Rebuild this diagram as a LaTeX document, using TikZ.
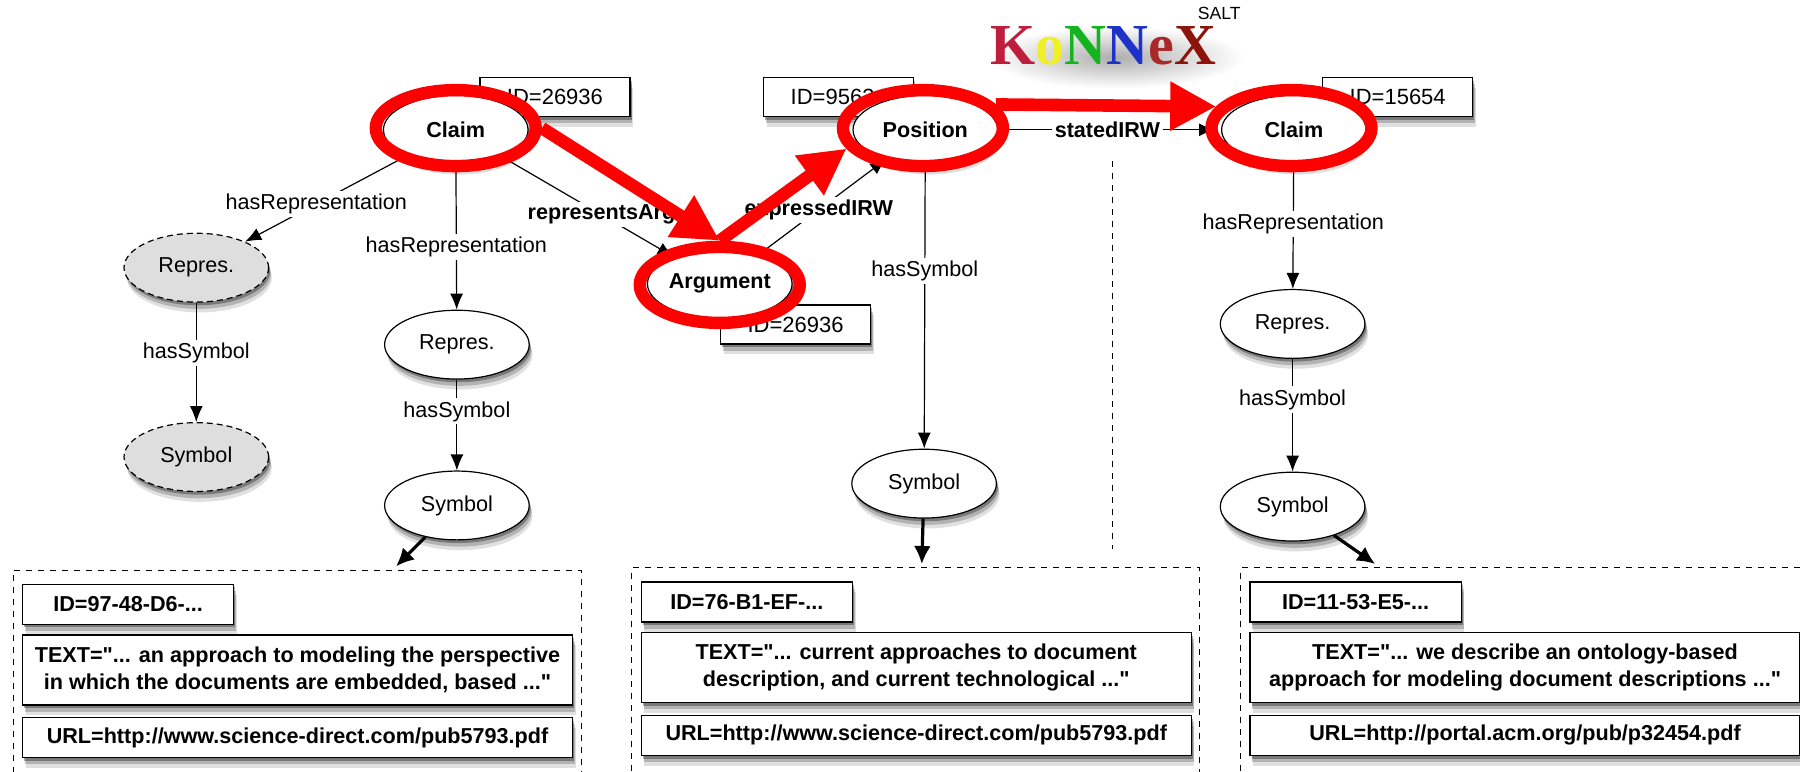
\documentclass[tikz,border=0pt]{standalone}
\usepackage{fontspec}
\setmainfont{Liberation Sans}[Ligatures=TeXOff]
\newfontfamily\logofont{Liberation Serif}
\usepackage{tikz}
\usetikzlibrary{arrows,arrows.meta,backgrounds,positioning,shadows,shapes}
\definecolor{ringred}{RGB}{255,0,0}
\tikzstyle{softshadow}=[general shadow={fill=black,opacity=.12,shadow xshift=1.6pt,shadow yshift=-5.2pt},general shadow={fill=black,opacity=.2,shadow xshift=1.2pt,shadow yshift=-3.4pt},general shadow={fill=black,opacity=.32,shadow xshift=.8pt,shadow yshift=-1.6pt}]
\tikzstyle{concept}=[ellipse,draw=black,fill=white,softshadow,line width=.6pt,inner sep=0,minimum width=72.3pt,minimum height=34.4pt,font=\fontsize{10.8}{13}\selectfont]
\tikzstyle{main}=[concept,font=\fontsize{10.8}{13}\selectfont\bfseries]
\tikzstyle{ghost}=[concept,densely dashed,fill=black!13]
\tikzstyle{idlabel}=[rectangle,draw=black,fill=white,softshadow,line width=.7pt,inner sep=0,minimum width=75pt,minimum height=19.5pt,font=\fontsize{11}{13}\selectfont]
\tikzstyle{docbox}=[rectangle,draw=black,dashed,fill=white,minimum width=284pt,minimum height=143.5pt]
\tikzstyle{docid}=[rectangle,draw=black,fill=white,softshadow,line width=.7pt,inner sep=0,minimum width=105.6pt,minimum height=20pt,font=\fontsize{10.8}{13}\selectfont\bfseries]
\tikzstyle{doctext}=[docid,minimum width=275pt,minimum height=35pt,align=center,font=\fontsize{10.8}{13.2}\selectfont\bfseries]
\tikzstyle{docurl}=[docid,minimum width=275pt]
\tikzstyle{edgelabel}=[fill=white,inner sep=1.5pt,font=\fontsize{10.8}{13}\selectfont]
\tikzstyle{boldlabel}=[edgelabel,font=\fontsize{10.8}{13}\selectfont\bfseries]
\tikzstyle{link}=[-{Latex[length=8pt,width=6.5pt]},line width=.6pt]
\tikzstyle{heavylink}=[-{Latex[length=9pt,width=8.5pt]},line width=1.6pt]
\tikzstyle{ring}=[ellipse,draw=ringred,line width=6.2pt,inner sep=0,minimum width=80pt,minimum height=38pt]
\tikzstyle{redarrow}=[-{Triangle[length=23pt,width=23pt]},draw=ringred,line width=6.3pt]

\begin{document}
\begin{tikzpicture}[>=latex,x=.574pt,y=-.5744pt]
	\useasboundingbox (0,0) rectangle (1568,672);
	\clip (0,0) rectangle (1568,672);
	\node[main](claimA) at (397,113){Claim};
	\node[main](positionB)[right =161.9pt of claimA]{Position};
	\node[main](claimC)[right =111.4pt of positionB]{Claim};
	\node[main](argument) at (627,247){Argument};
	\node[ghost](represA) at (171,233){Repres.};
	\node[ghost](symbolA)[below =59.7pt of represA]{Symbol};
	\node[concept](represB) at (398,300){Repres.};
	\node[concept](symbolB) at (398,440){Symbol};
	\node[concept](symbolD) at (805,421){Symbol};
	\node[concept](represC) at (1126,282){Repres.};
	\node[concept](symbolC) at (1126,441){Symbol};
	\begin{scope}[on background layer]
		\node[idlabel](idClaimA) at ([xshift=49.6pt,yshift=16.4pt]claimA){ID=26936};
		\node[idlabel](idPosition) at ([xshift=-43.3pt,yshift=16.4pt]positionB){ID=95634};
		\node[idlabel](idClaimC) at ([xshift=51.9pt,yshift=16.4pt]claimC){ID=15654};
		\node[idlabel](idArgument) at ([xshift=37.9pt,yshift=-20.4pt]argument){ID=26936};
	\end{scope}
	\draw[link](claimA) -- node[edgelabel,pos=.56]{hasRepresentation} (represA);
	\draw[link](claimA) -- node[edgelabel,pos=.57]{hasRepresentation} (represB);
	\draw[link](claimA) -- node[boldlabel,pos=.58]{representsArg} (argument);
	\draw[link](argument) -- node[boldlabel,pos=.47]{expressedIRW} (positionB);
	\draw[link,shorten >=3pt](positionB) -- node[boldlabel,pos=.49]{statedIRW} (claimC);
	\draw[link](positionB) -- node[edgelabel,pos=.375]{hasSymbol} (symbolD);
	\draw[link](claimC) -- node[edgelabel,pos=.48]{hasRepresentation} (represC);
	\draw[link](represA) -- node[edgelabel,pos=.42]{hasSymbol} (symbolA);
	\draw[link](represB) -- node[edgelabel,pos=.35]{hasSymbol} (symbolB);
	\draw[link](represC) -- node[edgelabel,pos=.36]{hasSymbol} (symbolC);
	\coordinate (sepTop) at (969,140);
	\coordinate (sepBottom) at (969,478);
	\draw[dashed](sepTop) -- (sepBottom);
	\node[docbox,anchor=north west](docA) at (11,496){};
	\node[docbox,anchor=north west](docB) at (550,494){};
	\node[docbox](docC)[right =20pt of docB]{};
	\node[docid](idA)[below right=6.9pt and 4.6pt of docA.north west]{ID=97-48-D6-...};
	\node[doctext](textA)[below right=4.6pt and 0pt of idA.south west]{TEXT="... an approach to modeling the perspective\\in which the documents are embedded, based ..."};
	\node[docurl](urlA)[below =5.7pt of textA]{URL=http://www.science-direct.com/pub5793.pdf};
	\node[docid](idB)[below right=6.9pt and 4.6pt of docB.north west]{ID=76-B1-EF-...};
	\node[doctext](textB)[below right=4.6pt and 0pt of idB.south west]{TEXT="... current approaches to document\\description, and current technological ..."};
	\node[docurl](urlB)[below =5.7pt of textB]{URL=http://www.science-direct.com/pub5793.pdf};
	\node[docid](idC)[below right=6.9pt and 4.6pt of docC.north west]{ID=11-53-E5-...};
	\node[doctext](textC)[below right=4.6pt and 0pt of idC.south west]{TEXT="... we describe an ontology-based\\approach for modeling document descriptions ..."};
	\node[docurl](urlC)[below =5.7pt of textC]{URL=http://portal.acm.org/pub/p32454.pdf};
	\coordinate (tipA) at (345,493);
	\coordinate (tipB) at (803,491);
	\coordinate (tipC) at (1198,491);
	\draw[heavylink](symbolB) -- (tipA);
	\draw[heavylink](symbolD) -- (tipB);
	\draw[heavylink](symbolC) -- (tipC);
	\begin{scope}[on background layer]
		\shade[inner color=black!32,outer color=white] (972,50) ellipse (112 and 27);
	\end{scope}
	\node[font=\logofont\fontsize{29}{29}\selectfont\bfseries,inner sep=0](logo) at (961,40){\textcolor[RGB]{190,30,60}{K}\textcolor[RGB]{240,240,40}{o}\textcolor[RGB]{20,180,30}{N}\textcolor[RGB]{30,50,200}{N}\textcolor[RGB]{170,40,40}{e}\textcolor[RGB]{140,20,10}{X}};
	\node[font=\fontsize{8.8}{10}\selectfont,inner sep=0](salt) at (1062,12){SALT};
	\node[ring](ringClaimA) at (397,111.5){};
	\node[ring](ringPosition) at (804,111.5){};
	\node[ring](ringClaimC) at (1125,111.5){};
	\node[ring](ringArgument) at (627,248){};
	\draw[redarrow](ringClaimA.east) -- (ringArgument.north);
	\draw[redarrow](ringArgument.north) -- (ringPosition.195);
	\draw[redarrow](ringPosition.18) -- (ringClaimC.164);
\end{tikzpicture}
\end{document}
